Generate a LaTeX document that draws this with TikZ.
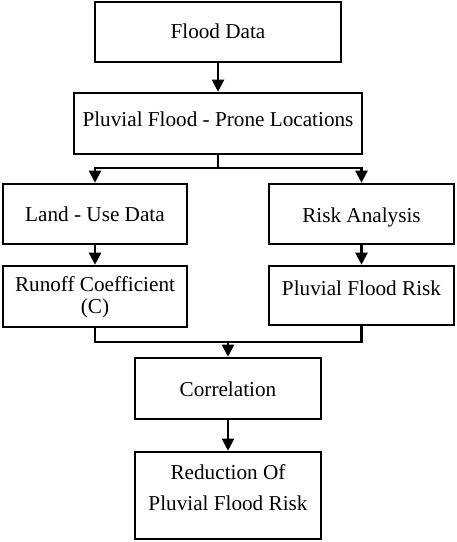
\documentclass[tikz,border=0pt]{standalone}
\usepackage{fontspec}
\setmainfont{Liberation Serif}
\usetikzlibrary{arrows.meta}
\begin{document}
\begin{tikzpicture}[x=1pt,y=-1pt,
  box/.style={draw=black,line width=2.6pt,fill=white,inner sep=0pt,align=center,
    font=\fontsize{21.2}{25}\selectfont,text height=15pt,text depth=1.4pt},
  conn/.style={draw=black,line width=2.3pt},
  arr/.style={conn,-{Triangle[width=12pt,length=12pt]}}]
\useasboundingbox (0,0) rectangle (457,542);
\node[box,minimum width=246pt,minimum height=60pt] (fd) at (218,32) {Flood Data};
\node[box,minimum width=288pt,minimum height=61pt,text depth=8.4pt] (pf) at (218,123.5) {Pluvial Flood - Prone Locations};
\node[box,minimum width=184pt,minimum height=60pt,text height=17pt] (lu) at (95,214) {Land - Use Data};
\node[box,minimum width=185pt,minimum height=60pt,text height=18pt] (ra) at (361.5,214) {Risk Analysis};
\node[box,minimum width=184pt,minimum height=61pt,text height=36pt] (rc) at (95,296.5) {Runoff Coefficient\\[-3pt](C)};
\node[box,minimum width=185pt,minimum height=59pt,text depth=14.4pt] (pr) at (361.5,295.5) {Pluvial Flood Risk};
\node[box,minimum width=186pt,minimum height=61pt,text height=18pt] (co) at (228,388.5) {Correlation};
\node[box,minimum width=186pt,minimum height=87pt,text height=32pt] (rd) at (228,495.5) {Reduction Of\\[6pt]Pluvial Flood Risk};
\coordinate (b1) at (218,168);
\coordinate (m1) at (228,342);
\draw[arr] (fd.south) -- (pf.north);
\draw[conn] (pf.south) -- (b1);
\draw[arr] (b1) -| (lu.north);
\draw[arr] (b1) -| (ra.north);
\draw[arr] (lu.south) -- (rc.north);
\draw[arr] (ra.south) -- (pr.north);
\draw[conn] (rc.south) |- (m1);
\draw[conn] (pr.south) |- (m1);
\draw[arr] (m1) -- (co.north);
\draw[arr] (co.south) -- (rd.north);
\end{tikzpicture}
\end{document}
